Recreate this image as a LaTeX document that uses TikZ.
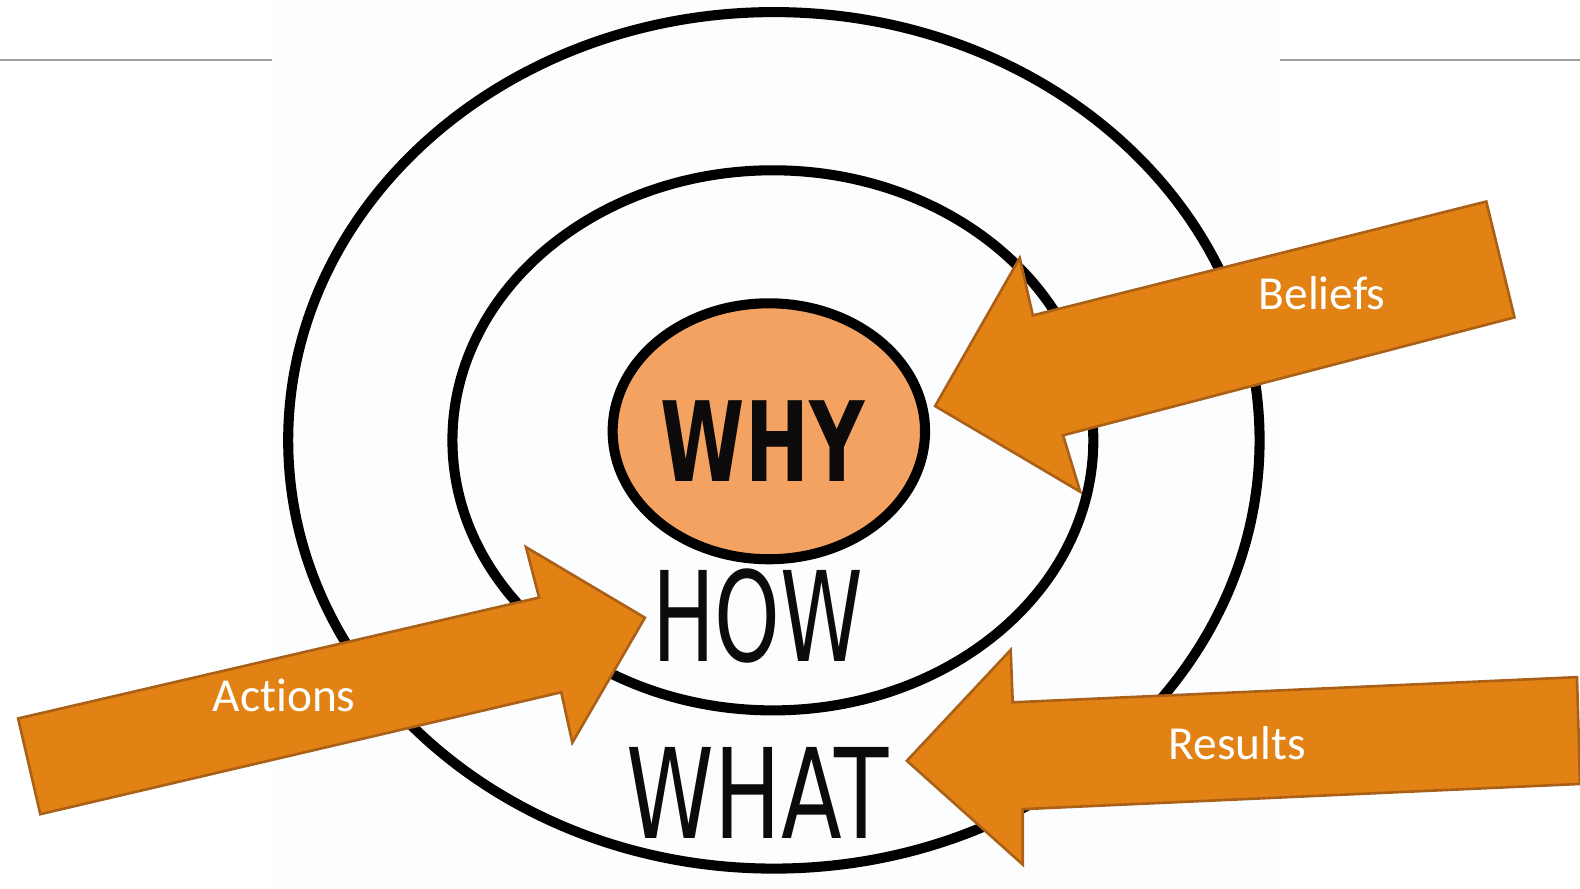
\documentclass[tikz,border=0pt]{standalone}
\usepackage{fontspec}
\newfontfamily\calibrifont[RawFeature={-liga}]{Carlito}
\newfontfamily\handfont{DejaVu Sans}

\tikzset{every picture/.style={line width=0.75pt}}
\tikzset{
  ringline/.style={draw={rgb, 255:red, 0; green, 0; blue, 0 }, line width=5pt},
  orangearrow/.style={draw={rgb, 255:red, 170; green, 96; blue, 22 }, fill={rgb, 255:red, 226; green, 130; blue, 20 }, line width=1.3pt, line join=miter},
  arrowtext/.style={color=white, font=\calibrifont\fontsize{23.5}{28}\selectfont},
  handtext/.style={color={rgb, 255:red, 12; green, 10; blue, 10 }, font=\handfont\fontsize{62}{62}\selectfont, xscale=0.69},
}

\begin{document}
\begin{tikzpicture}[x=0.5pt,y=0.5pt,yscale=-1,xscale=1]
\useasboundingbox (0,0) rectangle (1568,882); %set diagram to 1568 x 882

%Shape: Rectangle [id:dp4410257183] 
\fill [color={rgb, 255:red, 252; green, 253; blue, 254 }] (272,0) rectangle (1270,882) ;
%Straight Lines [id:da2781440613] 
\draw [color={rgb, 255:red, 160; green, 160; blue, 160 }  ,draw opacity=1 ][line width=1pt]  (0,60) -- (270,60) ;
%Straight Lines [id:da9036617725] 
\draw [color={rgb, 255:red, 160; green, 160; blue, 160 }  ,draw opacity=1 ][line width=1pt]  (1270,60) -- (1568,60) ;

%Shape: Ellipse [id:dp3315902746] 
\draw  [ringline] (768,437) ellipse (482 and 425) ;
%Shape: Ellipse [id:dp5502917361] 
\draw  [ringline] (767,437) ellipse (318 and 268) ;
%Shape: Ellipse [id:dp1268840457] 
\draw  [ringline, line width=5pt, fill={rgb, 255:red, 243; green, 162; blue, 98 }  ,fill opacity=1 ] (763,428) ellipse (155 and 127) ;

% Text Node
\draw (757,438) node (why) [handtext, font=\handfont\bfseries\fontsize{55}{55}\selectfont, xscale=1.0] {WHY};
% Text Node
\draw (752,611) node (how) [handtext, xscale=0.97] {HOW};
% Text Node
\draw (752,787) node (what) [handtext, xscale=1.03] {WHAT};

%Left Arrow [id:dp8823419075] 
\draw  [orangearrow] (928,403) -- (1012,256) -- (1025,313) -- (1475,200) -- (1503,315) -- (1055,432) -- (1072,488) -- cycle ;
%Right Arrow [id:dp6617302948] 
\draw  [orangearrow] (640,613) -- (568,737) -- (557,687) -- (40,808) -- (18,713) -- (535,593) -- (522,543) -- cycle ;
%Left Arrow [id:dp2039475516] 
\draw  [orangearrow] (900,755) -- (1003,645) -- (1005,697) -- (1565,672) -- (1568,778) -- (1015,803) -- (1015,858) -- cycle ;

% Text Node
\draw (1312,291) node (beliefs) [arrowtext] {Beliefs};
% Text Node
\draw (282,690) node (actions) [arrowtext] {Actions};
% Text Node
\draw (1228,738) node (results) [arrowtext] {Results};

\end{tikzpicture}
\end{document}
